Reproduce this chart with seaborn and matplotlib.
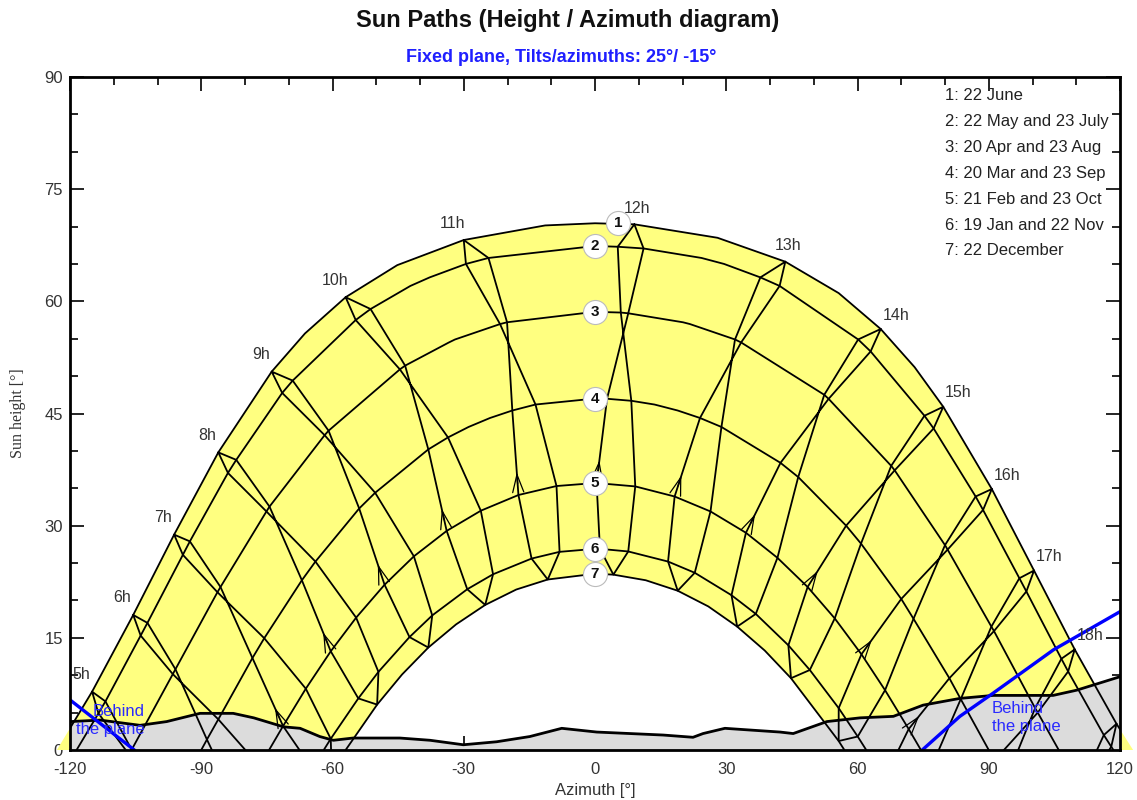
import numpy as np
import pandas as pd
import matplotlib
matplotlib.use("Agg")
import matplotlib.pyplot as plt
import seaborn as sns

N = np.nan

# clock hours of the hour loops
hours = [5, 6, 7, 8, 9, 10, 11, 12, 13, 14, 15, 16, 17, 18, 19]

# sun position at each clock hour (azimuth / height, degrees), one pair per date
jun22_az = [-114.95, -105.55, -96.2, -86.1, -73.9, -57.0, -30.0, 9.0, 43.5, 65.3, 79.6, 90.7, 100.35, 109.65, 119.2]
jun22_h = [7.8, 18.06, 28.8, 39.8, 50.6, 60.55, 68.2, 70.3, 65.3, 56.3, 45.9, 34.9, 24.0, 13.45, 3.5]
may22_az = [-111.9, -102.3, -92.6, -82.0, -69.1, -51.3, -24.35, 11.1, 42.2, 63.0, 77.4, 88.7, 98.6, 108.15, 118.0]
may22_h = [6.5, 17.0, 27.9, 38.8, 49.4, 58.97, 65.8, 67.07, 62.06, 53.3, 43.0, 32.1, 21.2, 10.5, 0.44]
jul23_az = [-113.5, -103.85, -94.2, -83.9, -71.5, -54.7, -29.5, 5.2, 37.8, 60.15, 75.3, 87.0, 97.0, 106.6, 116.3]
jul23_h = [4.9, 15.3, 26.1, 37.05, 47.75, 57.5, 65.0, 67.3, 63.2, 54.9, 44.7, 33.9, 22.97, 12.2, 2.0]
apr20_az = [-105.9, -95.9, -85.6, -74.4, -60.9, -43.4, -20.1, 7.6, 33.4, 53.4, 68.5, 80.6, 91.2, 101.2, 111.5]
apr20_h = [0.04, 10.8, 21.8, 32.55, 42.7, 51.4, 57.2, 58.4, 54.5, 46.96, 37.4, 26.8, 15.9, 5.0, -5.5]
aug23_az = [-106.5, -96.5, -86.3, -75.1, -61.8, -44.6, -21.7, 5.9, 32.0, 52.4, 67.7, 80.0, 90.6, 100.6, 110.9]
aug23_h = [-0.6, 10.15, 21.1, 31.9, 42.1, 50.9, 56.96, 58.5, 54.9, 47.5, 38.0, 27.4, 16.5, 5.6, -4.9]
mar20_az = [-99.0, -88.7, -78.3, -67.0, -53.9, -38.1, -18.9, 2.75, 24.0, 42.4, 57.4, 70.0, 81.0, 91.3, N]
mar20_h = [-9.6, 1.4, 12.3, 22.7, 32.3, 40.2, 45.4, 46.97, 44.4, 38.4, 30.0, 20.2, 9.6, -1.4, N]
sep23_az = [-96.4, -86.1, -75.6, -63.9, -50.25, -33.6, -13.6, 8.3, 28.9, 46.45, 60.8, 72.8, 83.6, 93.9, N]
sep23_h = [-6.8, 4.1, 14.95, 25.2, 34.4, 41.8, 46.2, 46.7, 43.2, 36.5, 27.6, 17.55, 6.8, -4.1, N]
feb21_az = [N, -81.5, -71.3, -60.4, -48.1, -33.9, -17.5, 0.36, 18.2, 34.5, 48.6, 60.9, 71.7, 81.9, N]
feb21_h = [N, -7.5, 3.2, 13.2, 22.1, 29.3, 34.1, 35.7, 33.9, 29.05, 21.8, 12.8, 2.8, -7.9, N]
oct23_az = [N, -76.6, -66.1, -54.6, -41.4, -26.1, -8.8, 9.2, 26.4, 41.7, 54.8, 66.3, 76.8, 86.8, N]
oct23_h = [N, -2.2, 8.2, 17.7, 25.9, 32.0, 35.3, 35.25, 31.9, 25.7, 17.6, 8.0, -2.4, -13.2, N]
jan19_az = [N, N, -64.6, -54.1, -42.4, -29.2, -14.5, 1.13, 16.7, 31.2, 44.2, 55.7, 66.0, N, N]
jan19_h = [N, N, -2.5, 6.9, 15.1, 21.5, 25.6, 26.9, 25.2, 20.7, 14.0, 5.6, -4.0, N, N]
nov22_az = [N, N, -60.4, -49.5, -37.2, -23.3, -8.1, 7.6, 22.8, 36.75, 49.1, 60.05, 70.1, N, N]
nov22_h = [N, N, 1.5, 10.45, 18.0, 23.5, 26.5, 26.55, 23.7, 18.2, 10.7, 1.8, -8.1, N, N]
dec22_az = [N, N, -60.2, -49.8, -38.1, -25.1, -10.8, 4.2, 18.9, 32.5, 44.8, 55.7, 65.6, N, N]
dec22_h = [N, N, -2.9, 6.07, 13.7, 19.4, 22.8, 23.45, 21.3, 16.5, 9.6, 1.2, -8.4, N, N]

# date curves: legend text, noon height, azimuth where the curve meets the horizon
date_names = ["1: 22 June", "2: 22 May and 23 July", "3: 20 Apr and 23 Aug",
              "4: 20 Mar and 23 Sep", "5: 21 Feb and 23 Oct", "6: 19 Jan and 22 Nov",
              "7: 22 December"]
noon_h = [70.44, 67.4, 58.6, 47.0, 35.7, 26.9, 23.57]
rise_az = [123.0, 118.5, 106.0, 90.0, 74.5, 62.0, 57.0]

# extra points along the date curves between the hour crossings
d1_extra_az = [-66.3, -45.2, -11.4, 28.0, 55.7, 73.05]
d1_extra_h = [55.7, 64.84, 70.15, 68.5, 61.1, 51.2]
d2_extra_az = [-42.2, -37.8, 24.35, 29.5]
d2_extra_h = [62.06, 63.2, 65.8, 65.0]
d3_extra_az = [-33.4, -32.0, 20.1, 21.7]
d3_extra_h = [54.5, 54.9, 57.2, 56.96]
d4_extra_az = [-28.9, -24.0, 13.6, 18.9]
d4_extra_h = [43.2, 44.4, 46.2, 45.4]
d7_extra_az = [-44.1, -31.75, -18.0, 11.6, 25.9, 38.8]
d7_extra_h = [10.1, 16.8, 21.46, 22.7, 19.2, 13.3]

# far horizon profile
horizon_az = [-120, -113.1, -104, -97.9, -90.3, -82.7, -78, -71.2, -67.4, -62.9, -59.8, -55.3,
              -49, -44.6, -37.7, -30.1, -22.5, -14.9, -7.6, 0.4, 8, 15.6, 22.4, 24.7, 29.7,
              34.7, 42.3, 45.3, 53, 60.6, 68.2, 75, 83.4, 91, 104.7, 110.1, 120]
horizon_h = [3.8, 4.0, 3.3, 3.8, 4.9, 4.9, 4.3, 3.1, 2.9, 1.8, 1.3, 1.6,
             1.6, 1.6, 1.3, 0.7, 1.1, 1.8, 2.9, 2.4, 2.2, 2.0, 1.7, 2.2, 2.9,
             2.7, 2.4, 2.2, 3.8, 4.3, 4.5, 6.0, 6.9, 7.3, 7.3, 8.0, 9.8]

# limits of the zone behind the plane
plane_left_az = [-120, -105.3]
plane_left_h = [6.7, 0]
plane_right_az = [74.8, 83.4, 91.0, 104.8, 120]
plane_right_h = [0, 4.5, 7.6, 13.4, 18.5]

pos = {
    "jun22": (jun22_az, jun22_h), "may22": (may22_az, may22_h), "jul23": (jul23_az, jul23_h),
    "apr20": (apr20_az, apr20_h), "aug23": (aug23_az, aug23_h), "mar20": (mar20_az, mar20_h),
    "sep23": (sep23_az, sep23_h), "feb21": (feb21_az, feb21_h), "oct23": (oct23_az, oct23_h),
    "jan19": (jan19_az, jan19_h), "nov22": (nov22_az, nov22_h), "dec22": (dec22_az, dec22_h),
}

# hour loops follow the year: June -> December -> June
loop_order = ["jun22", "jul23", "aug23", "sep23", "oct23", "nov22", "dec22",
              "jan19", "feb21", "mar20", "apr20", "may22", "jun22"]
rows = []
for i, hr in enumerate(hours):
    for name in loop_order:
        a, h = pos[name][0][i], pos[name][1][i]
        if not np.isnan(a):
            rows.append((hr, a, h))
loops = pd.DataFrame(rows, columns=["hour", "az", "h"])

members = [["jun22"], ["may22", "jul23"], ["apr20", "aug23"], ["mar20", "sep23"],
           ["feb21", "oct23"], ["jan19", "nov22"], ["dec22"]]
extras = [(d1_extra_az, d1_extra_h), (d2_extra_az, d2_extra_h), (d3_extra_az, d3_extra_h),
          (d4_extra_az, d4_extra_h), ([], []), ([], []), (d7_extra_az, d7_extra_h)]
crows = []
curve_pts = []
for d in range(7):
    pts = [(-rise_az[d], 0.0), (rise_az[d], 0.0), (0.0, noon_h[d])]
    for name in members[d]:
        pts += [(a, h) for a, h in zip(*pos[name]) if not np.isnan(a)]
    pts += list(zip(*extras[d]))
    pts.sort()
    curve_pts.append(pts)
    crows += [(d + 1, a, h) for a, h in pts]
curves = pd.DataFrame(crows, columns=["date", "az", "h"])

sns.set_theme(style="ticks")
plt.rcParams["font.family"] = ["Liberation Sans", "DejaVu Sans"]
plt.rcParams["axes.unicode_minus"] = False

fig = plt.figure(figsize=(11.37, 8.0), dpi=100)
ax = fig.add_axes([70 / 1137, 50 / 800, 1050 / 1137, 673 / 800])

# yellow band between 22 June and 22 December
outer = [p for p in curve_pts[0] if p[1] >= 0]
inner = [p for p in curve_pts[6] if p[1] >= 0][::-1]
band = outer + inner
ax.fill([p[0] for p in band], [p[1] for p in band], color="#ffff80", lw=0, zorder=1, clip_on=False)

# horizon
ax.fill_between(horizon_az, 0, horizon_h, color="#dcdcdc", lw=0, zorder=2)

sns.lineplot(data=curves, x="az", y="h", units="date", estimator=None, sort=False,
             color="black", linewidth=1.3, ax=ax, zorder=3)
sns.lineplot(data=loops, x="az", y="h", units="hour", estimator=None, sort=False,
             color="black", linewidth=1.3, ax=ax, zorder=3)
ax.plot(horizon_az, horizon_h, color="black", lw=2.0, zorder=4)

# direction arrows on the spring branch
for i, hr in enumerate(hours):
    a5, h5 = feb21_az[i], feb21_h[i]
    a4, h4 = mar20_az[i], mar20_h[i]
    if np.isnan(a5) or np.isnan(a4) or h5 < 0:
        continue
    ax.annotate("", xy=(a5 + 0.3 * (a4 - a5), h5 + 0.3 * (h4 - h5)),
                xytext=(a5 + 0.1 * (a4 - a5), h5 + 0.1 * (h4 - h5)),
                arrowprops=dict(arrowstyle="->,head_length=0.8,head_width=0.25",
                                color="black", lw=0.9, mutation_scale=16),
                zorder=5)

# plane limits
ax.plot(plane_left_az, plane_left_h, color="#0000ff", lw=2.4, zorder=5)
ax.plot(plane_right_az, plane_right_h, color="#0000ff", lw=2.4, zorder=5)
ax.text(-102.9, 4.0, "Behind\nthe plane", color="#2a2aff", fontsize=12, ha="right",
        va="center", multialignment="right", linespacing=1.25, zorder=6)
ax.text(90.7, 4.3, "Behind\nthe plane", color="#2a2aff", fontsize=12, ha="left",
        va="center", linespacing=1.25, zorder=6)

# hour labels
for i, hr in enumerate(hours[:-1]):
    if hr < 12:
        off = (-11, 17)
    elif hr < 14:
        off = (3, 16)
    else:
        off = (15, 14)
    ax.annotate(f"{hr}h", xy=(jun22_az[i], jun22_h[i]), xytext=off, textcoords="offset pixels",
                ha="center", va="center", fontsize=11.5, color="#333333", zorder=7)

# date numbers
circle_az = [5.3, 0, 0, 0, 0, 0, 0]
ax.scatter(circle_az, noon_h, s=300, color="white", edgecolors="#bbbbbb", linewidths=0.8, zorder=8)
for d in range(7):
    ax.text(circle_az[d], noon_h[d], str(d + 1), ha="center", va="center", fontsize=11,
            fontweight="bold", color="#111111", zorder=9)

ax.set_xlim(-120, 120)
ax.set_ylim(0, 90)
ax.set_xticks(range(-120, 121, 30))
ax.set_xticks(range(-120, 121, 10), minor=True)
ax.set_yticks(range(0, 91, 15))
ax.set_yticks(range(0, 91, 5), minor=True)
ax.tick_params(which="both", direction="in", top=True, right=True, width=1.2, colors="black",
               labelcolor="#333333", labelsize=12)
ax.tick_params(which="major", length=10)
ax.tick_params(which="minor", length=6)
ax.tick_params(axis="x", pad=9)
ax.tick_params(axis="y", pad=5)
ax.set_xlabel("")
ax.set_ylabel("")
for s in ax.spines.values():
    s.set_linewidth(2.0)
    s.set_color("black")
    s.set_zorder(10)

fig.text(0.499, 1 - 20 / 800, "Sun Paths (Height / Azimuth diagram)", ha="center", va="center",
         fontsize=17, fontweight="bold", color="#111111")
fig.text(0.494, 1 - 58 / 800, "Fixed plane, Tilts/azimuths: 25°/ -15°", ha="center", va="center",
         fontsize=13, fontweight="bold", color="#1f1fff")
fig.text(595 / 1137, 1 - 790 / 800, "Azimuth [°]", ha="center", va="center", fontsize=12,
         color="#333333")
fig.text(18 / 1137, 1 - 413 / 800, "Sun height [°]", ha="center", va="center", rotation=90,
         fontsize=11.5, color="#333333", family=["Liberation Serif", "DejaVu Serif"])

for k, name in enumerate(date_names):
    fig.text(945 / 1137, 1 - (96 + 25.8 * k) / 800, name, ha="left", va="center", fontsize=12,
             color="#222222")

fig.savefig("out.png", dpi=100)
